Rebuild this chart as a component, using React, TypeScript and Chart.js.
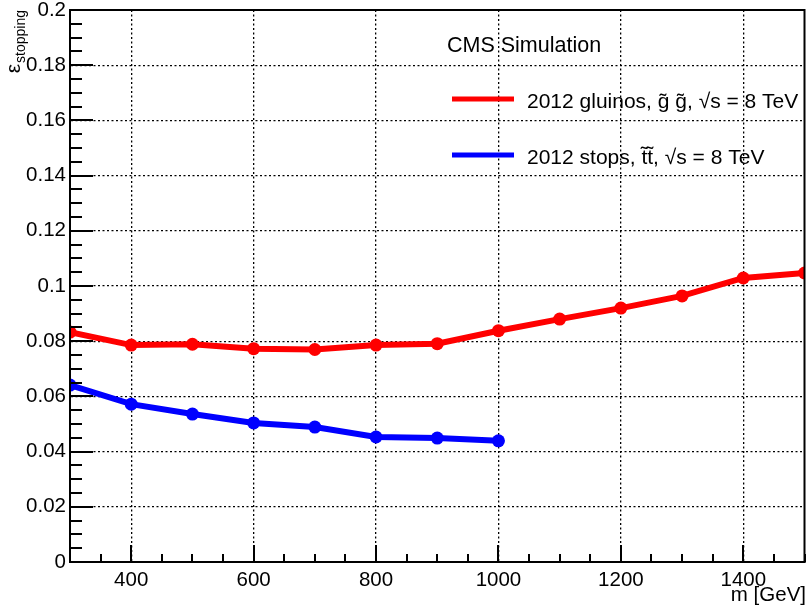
import React, { useEffect, useRef } from "react";
import { Chart, registerables } from "chart.js";

Chart.register(...registerables);

// ---- data ----
const gluinoMass = [300, 400, 500, 600, 700, 800, 900, 1000, 1100, 1200, 1300, 1400, 1500];
const gluinoEff = [0.0833, 0.0786, 0.0789, 0.0773, 0.0770, 0.0786, 0.0791, 0.0838, 0.0880, 0.0920, 0.0964, 0.1029, 0.1047];
const stopMass = [300, 400, 500, 600, 700, 800, 900, 1000];
const stopEff = [0.0641, 0.0572, 0.0536, 0.0504, 0.0489, 0.0453, 0.0449, 0.0439];

const xTickValues = [400, 600, 800, 1000, 1200, 1400];
const xTickLabels = ["400", "600", "800", "1000", "1200", "1400"];
const yTickValues = [0, 0.02, 0.04, 0.06, 0.08, 0.1, 0.12, 0.14, 0.16, 0.18, 0.2];
const yTickLabels = ["0", "0.02", "0.04", "0.06", "0.08", "0.1", "0.12", "0.14", "0.16", "0.18", "0.2"];

const seriesLabels = ["2012 gluinos, g\u0303 g\u0303, \u221As = 8 TeV", "2012 stops, t\u0303t\u0303, \u221As = 8 TeV"];
const seriesColors = ["#ff0000", "#0000ff"];
const headerText = "CMS Simulation";
const xTitle = "m [GeV]";
const yTitleMain = "\u03B5";
const yTitleSub = "stopping";

const FONT = "'Liberation Sans', Arial, Helvetica, sans-serif";

const rootStyle = {
  id: "rootStyle",
  afterDraw(chart: any) {
    const { ctx, chartArea: a, scales } = chart;
    const xs = scales.x;
    const ys = scales.y;
    ctx.save();
    ctx.strokeStyle = "#000";
    ctx.lineWidth = 2;
    ctx.setLineDash([]);
    ctx.beginPath();
    // inward y ticks (major every 0.02, minor every 0.005)
    for (let i = 0; i <= 40; i++) {
      const y = Math.round(ys.getPixelForValue(i * 0.005));
      const len = i % 4 === 0 ? 23 : 12;
      ctx.moveTo(a.left, y);
      ctx.lineTo(a.left + len, y);
    }
    // inward x ticks (major every 200, minor every 50)
    for (let v = 300; v <= 1500; v += 50) {
      const x = Math.round(xs.getPixelForValue(v));
      const len = v % 200 === 0 ? 17 : 8;
      ctx.moveTo(x, a.bottom);
      ctx.lineTo(x, a.bottom - len);
    }
    ctx.stroke();
    // frame
    ctx.strokeRect(a.left, a.top, a.right - a.left, a.bottom - a.top);

    // header and legend
    ctx.fillStyle = "#000";
    ctx.textAlign = "left";
    ctx.textBaseline = "alphabetic";
    ctx.font = `21.5px ${FONT}`;
    ctx.fillText(headerText, 447, 52);

    const rows = [
      { lineY: 99, textY: 108 },
      { lineY: 155, textY: 164 },
    ];
    rows.forEach((r, i) => {
      ctx.strokeStyle = seriesColors[i];
      ctx.lineWidth = 5;
      ctx.beginPath();
      ctx.moveTo(452, r.lineY);
      ctx.lineTo(514, r.lineY);
      ctx.stroke();
      ctx.fillStyle = "#000";
      ctx.font = `21px ${FONT}`;
      ctx.fillText(seriesLabels[i], 527, r.textY);
    });

    // x title
    ctx.textAlign = "right";
    ctx.font = `20.5px ${FONT}`;
    ctx.fillText(xTitle, 806, 601);

    // y title, rotated
    ctx.save();
    ctx.rotate(-Math.PI / 2);
    ctx.textAlign = "right";
    ctx.font = `14px ${FONT}`;
    ctx.fillText(yTitleSub, -10, 25);
    ctx.font = `21px ${FONT}`;
    ctx.fillText(yTitleMain, -64, 20);
    ctx.restore();

    ctx.restore();
  },
};

const zeroPad = (s: any) => {
  s.paddingTop = 0;
  s.paddingBottom = 0;
  s.paddingLeft = 0;
  s.paddingRight = 0;
};

export default function App() {
  const ref = useRef<HTMLCanvasElement | null>(null);

  useEffect(() => {
    if (!ref.current) return;
    const chart = new Chart(ref.current, {
      type: "line",
      data: {
        datasets: [
          {
            label: seriesLabels[0],
            data: gluinoMass.map((m, i) => ({ x: m, y: gluinoEff[i] })),
            borderColor: seriesColors[0],
            backgroundColor: seriesColors[0],
            borderWidth: 6,
            pointRadius: 6.5,
            pointBorderWidth: 0,
            pointBackgroundColor: seriesColors[0],
            tension: 0,
          },
          {
            label: seriesLabels[1],
            data: stopMass.map((m, i) => ({ x: m, y: stopEff[i] })),
            borderColor: seriesColors[1],
            backgroundColor: seriesColors[1],
            borderWidth: 6,
            pointRadius: 6.5,
            pointBorderWidth: 0,
            pointBackgroundColor: seriesColors[1],
            tension: 0,
          },
        ],
      },
      options: {
        animation: false,
        responsive: false,
        maintainAspectRatio: false,
        layout: { padding: { left: 0, top: 10, right: 3.5, bottom: 0 } },
        plugins: { legend: { display: false }, tooltip: { enabled: false } },
        scales: {
          x: {
            type: "linear",
            min: 300,
            max: 1500,
            afterBuildTicks: (s: any) => {
              s.ticks = xTickValues.map((v) => ({ value: v }));
            },
            afterFit: (s: any) => {
              s.height = 53;
              zeroPad(s);
            },
            ticks: {
              color: "#000",
              font: { family: FONT, size: 20.5, lineHeight: 1 },
              padding: 8,
              maxRotation: 0,
              autoSkip: false,
              callback: (v: any) => {
                const i = xTickValues.indexOf(Number(v));
                return i >= 0 ? xTickLabels[i] : "";
              },
            },
            grid: { color: "#000", lineWidth: 1.3, drawTicks: false },
            border: { display: true, color: "#000", width: 2, dash: [2, 2.5] },
          },
          y: {
            type: "linear",
            min: 0,
            max: 0.2,
            afterBuildTicks: (s: any) => {
              s.ticks = yTickValues.map((v) => ({ value: v }));
            },
            afterFit: (s: any) => {
              s.width = 70;
              zeroPad(s);
            },
            ticks: {
              color: "#000",
              font: { family: FONT, size: 20.5, lineHeight: 1 },
              padding: 4,
              autoSkip: false,
              callback: (v: any) => {
                const i = yTickValues.findIndex((t) => Math.abs(t - Number(v)) < 1e-9);
                return i >= 0 ? yTickLabels[i] : "";
              },
            },
            grid: { color: "#000", lineWidth: 1.3, drawTicks: false },
            border: { display: true, color: "#000", width: 2, dash: [2, 2.5] },
          },
        },
      },
      plugins: [rootStyle],
    } as any);
    return () => chart.destroy();
  }, []);

  return (
    <div style={{ position: "absolute", left: 0, top: 0, width: 811, height: 615, background: "#fff" }}>
      <canvas ref={ref} width={811} height={615} style={{ display: "block", width: 811, height: 615 }} />
    </div>
  );
}
